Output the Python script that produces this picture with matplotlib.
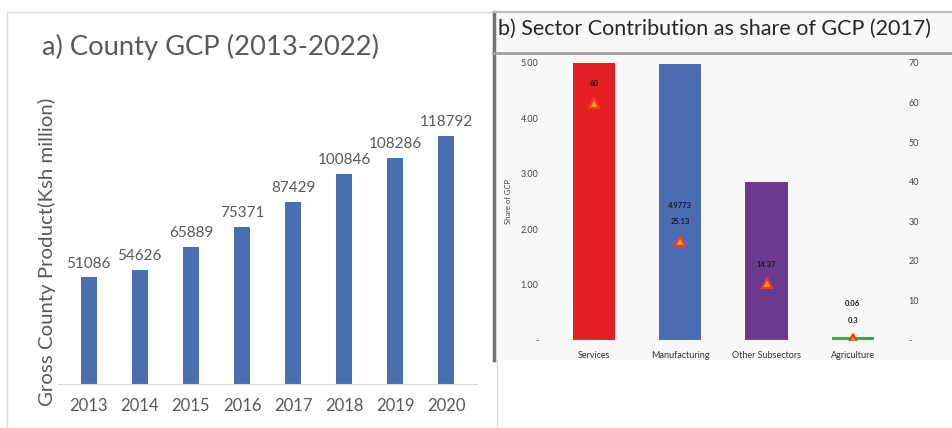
import matplotlib
matplotlib.use("Agg")
import matplotlib.pyplot as plt
from matplotlib.patches import Rectangle
from matplotlib.lines import Line2D
from matplotlib.ticker import FuncFormatter

plt.rcParams['font.family'] = ['Lato', 'DejaVu Sans']

# county GCP by year (Ksh million)
years = ['2013', '2014', '2015', '2016', '2017', '2018', '2019', '2020']
gcp = [51086, 54626, 65889, 75371, 87429, 100846, 108286, 118792]

# sector contribution, 2017
sectors = ['Services', 'Manufacturing', 'Other Subsectors', 'Agriculture']
sector_value = [11.88, 4.9773, 2.846, 0.06]
sector_share = [60, 25.13, 14.37, 0.3]
value_labels = ['', '4.9773', '', '0.06']
share_labels = ['60', '25.13', '14.37', '0.3']
sector_colors = ['#e31f22', '#4a6db2', '#693a8e', '#3aa648']

W, H = 952, 428
fig = plt.figure(figsize=(W / 100, H / 100), dpi=100)


def fx(px):
    return px / W


def fy(py):
    return 1 - py / H


# ---- panel a frame
fig.patches.append(Rectangle((fx(7), fy(440)), fx(490), (440 - 12) / H,
                             transform=fig.transFigure, facecolor='white',
                             edgecolor='#d9d9d9', lw=1, zorder=-2))

ax = fig.add_axes([fx(58), fy(384), fx(419), 292 / H])
x = range(len(years))
bars = ax.bar(x, gcp, width=0.31, color='#4a6fb0')
for xi, v in zip(x, gcp):
    ax.annotate(str(v), (xi, v), xytext=(0, 5), textcoords='offset points',
                ha='center', va='bottom', fontsize=11, color='#595959')
ax.set_xlim(-0.6, 7.6)
ax.set_ylim(0, 140000)
ax.set_xticks(list(x))
ax.set_xticklabels(years, fontsize=12, color='#595959')
ax.tick_params(axis='x', length=0, pad=10)
ax.set_yticks([])
for s in ['top', 'right', 'left']:
    ax.spines[s].set_visible(False)
ax.spines['bottom'].set_color('#d9d9d9')
ax.set_facecolor('none')

fig.text(fx(42), fy(47), 'a) County GCP (2013-2022)', fontsize=19.7,
         color='#595959', ha='left', va='center')
fig.text(fx(47), fy(252), 'Gross County Product(Ksh million)', fontsize=14.7,
         color='#595959', rotation=90, ha='center', va='center')

# ---- panel b frame
fig.patches.append(Rectangle((fx(493), fy(360)), fx(459), (360 - 12) / H,
                             transform=fig.transFigure, facecolor='#f8f8f8',
                             edgecolor='none', zorder=-2))
fig.lines.append(Line2D([fx(494), fx(494)], [fy(12), fy(360)],
                        transform=fig.transFigure, color='#747474', lw=2.5, zorder=-1))
fig.lines.append(Line2D([fx(493), 1], [fy(12), fy(12)],
                        transform=fig.transFigure, color='#bdbdbd', lw=1.5, zorder=-1))
fig.lines.append(Line2D([fx(493), 1], [fy(53), fy(53)],
                        transform=fig.transFigure, color='#a0a0a0', lw=2, zorder=-1))
fig.text(fx(498), fy(29), 'b) Sector Contribution as share of GCP (2017)',
         fontsize=15.5, color='#262626', ha='left', va='center')

bx = fig.add_axes([fx(555), fy(340), fx(341), (340 - 63) / H])
bx.set_facecolor('none')
xs = range(len(sectors))
bx.bar(xs, sector_value, width=0.49, color=sector_colors)
bx.set_xlim(-0.45, 3.5)
bx.set_ylim(0, 5)
bx.axhline(0, color='#bbbbbb', lw=1, ls=':')
acc = FuncFormatter(lambda v, p: '-' if v == 0 else f'{v:.2f}')
bx.yaxis.set_major_formatter(acc)
bx.set_yticks([0, 1, 2, 3, 4, 5])
bx.tick_params(axis='y', length=0, pad=12, labelsize=6.5, labelcolor='#444444')
bx.set_xticks(list(xs))
bx.set_xticklabels(sectors, fontsize=6.5, color='#333333')
bx.tick_params(axis='x', length=0, pad=8)
for s in bx.spines.values():
    s.set_visible(False)
bx.set_ylabel('Share of GCP', fontsize=5.5, color='#444444', labelpad=6)

tx = bx.twinx()
tx.set_ylim(0, 70)
tx.set_yticks(range(0, 71, 10))
tx.yaxis.set_major_formatter(FuncFormatter(lambda v, p: '-' if v == 0 else f'{v:.0f}'))
tx.tick_params(axis='y', length=0, pad=9, labelsize=6.5, labelcolor='#444444')
for s in tx.spines.values():
    s.set_visible(False)
tx.plot(list(xs), sector_share, ls='none', marker='^', markersize=7,
        markerfacecolor='#f7941d', markeredgecolor='#ee3b24', markeredgewidth=1.5)
for xi, sh, sl, vl in zip(xs, sector_share, share_labels, value_labels):
    tx.annotate(sl, (xi, sh), xytext=(0, 11), textcoords='offset points',
                ha='center', va='bottom', fontsize=5.5, fontweight='bold',
                color='#1a1a1a')
    if vl:
        tx.annotate(vl, (xi, sh), xytext=(0, 23), textcoords='offset points',
                    ha='center', va='bottom', fontsize=5.5, fontweight='bold',
                    color='#1a1a1a')

fig.savefig('out.png', dpi=100)
